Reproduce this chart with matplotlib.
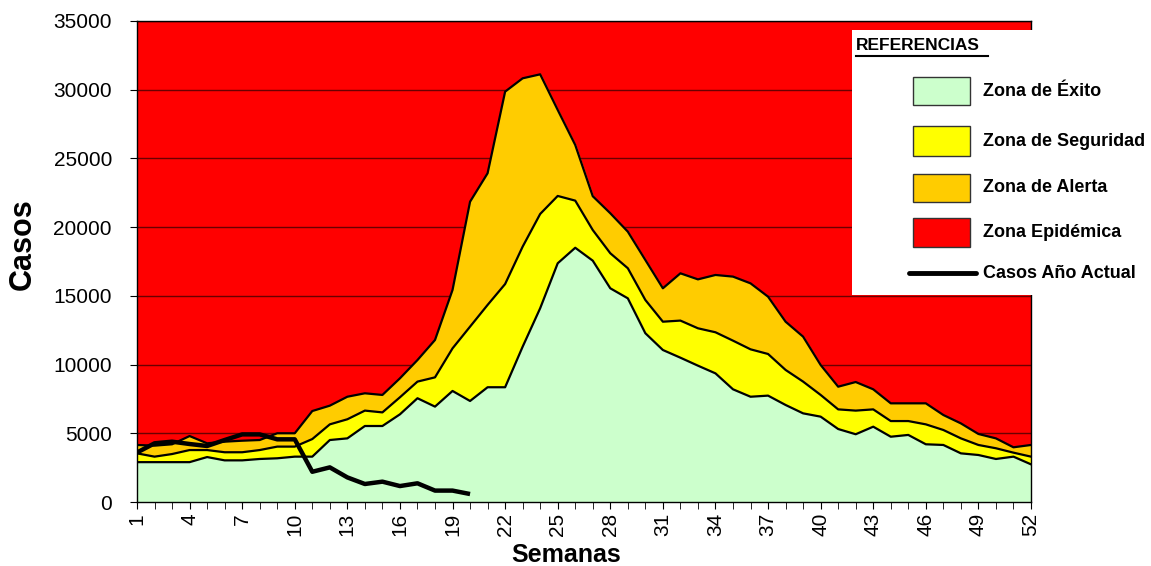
"""
Corredor endemico - casos por semana
"""

import matplotlib
matplotlib.use('Agg')
import matplotlib.pyplot as plt
from matplotlib.patches import Rectangle
from matplotlib.lines import Line2D

plt.rcParams['font.family'] = ['Liberation Sans', 'DejaVu Sans']

# data
semanas = list(range(1, 53))

zona_exito = [2900, 2900, 2900, 2900, 3270, 3030, 3030, 3130, 3180, 3300,
              3300, 4510, 4630, 5530, 5530, 6380, 7550, 6940, 8080, 7350,
              8350, 8350, 11300, 14100, 17370, 18500, 17560, 15550, 14820, 12280,
              11060, 10500, 9920, 9360, 8200, 7660, 7740, 7060, 6450, 6210,
              5310, 4930, 5480, 4750, 4880, 4200, 4150, 3540, 3420, 3130,
              3300, 2740]

zona_seguridad = [3540, 3300, 3490, 3780, 3780, 3620, 3620, 3780, 4030, 4030,
                  4580, 5650, 6020, 6650, 6520, 7620, 8760, 9070, 11180, 12760,
                  14340, 15860, 18580, 20960, 22270, 21930, 19790, 18100, 17010, 14700,
                  13120, 13200, 12640, 12350, 11740, 11110, 10770, 9610, 8760, 7790,
                  6740, 6650, 6740, 5890, 5890, 5650, 5240, 4630, 4150, 3910,
                  3590, 3300]

zona_alerta = [4150, 4100, 4200, 4800, 4270, 4390, 4460, 4510, 5000, 5000,
               6620, 7010, 7660, 7910, 7790, 9000, 10330, 11790, 15430, 21850,
               23920, 29860, 30830, 31120, 28530, 25980, 22250, 21010, 19670, 17610,
               15550, 16640, 16200, 16520, 16400, 15910, 14940, 13120, 12030, 9970,
               8390, 8730, 8200, 7180, 7180, 7180, 6330, 5720, 4950, 4630,
               3980, 4150]

semanas_actual = list(range(1, 21))
casos_actual = [3600, 4270, 4390, 4220, 4075, 4510, 4920, 4920, 4560, 4560,
                2200, 2520, 1790, 1310, 1480, 1160, 1360, 830, 830, 580]

y_max = 35000

W, H = 1151, 566
fig = plt.figure(figsize=(W / 100, H / 100), dpi=100)
ax = fig.add_axes([137 / W, 1 - 502 / H, (1031 - 137) / W, (502 - 21) / H])

# epidemic zone = red background
ax.set_facecolor('#FF0000')
ax.set_axisbelow(True)
ax.yaxis.grid(True, color='#6a0000', linewidth=1)

ax.fill_between(semanas, 0, zona_alerta, color='#FFCC00', zorder=2)
ax.fill_between(semanas, 0, zona_seguridad, color='#FFFF00', zorder=3)
ax.fill_between(semanas, 0, zona_exito, color='#CCFFCC', zorder=4)
ax.plot(semanas, zona_alerta, color='black', lw=1.6, zorder=5)
ax.plot(semanas, zona_seguridad, color='black', lw=1.6, zorder=5)
ax.plot(semanas, zona_exito, color='black', lw=1.6, zorder=5)
ax.plot(semanas_actual, casos_actual, color='black', lw=3.2, zorder=6,
        solid_capstyle='butt')

ax.set_xlim(1, 52)
ax.set_ylim(0, y_max)
ax.set_xticks(semanas, minor=True)
ax.set_xticks(semanas[::3])
ax.set_xticklabels([str(s) for s in semanas[::3]], rotation=90, fontsize=15)
ax.set_yticks(range(0, y_max + 1, 5000))
ax.set_yticklabels([str(v) for v in range(0, y_max + 1, 5000)], fontsize=15)
ax.tick_params(axis='x', which='both', direction='out', length=5, pad=3)
ax.tick_params(axis='y', direction='out', length=5, pad=13)
for sp in ax.spines.values():
    sp.set_color('black')
    sp.set_linewidth(1)
    sp.set_zorder(7)

fig.text(23 / W, 1 - 244 / H, 'Casos', rotation=90, fontsize=22,
         fontweight='bold', ha='center', va='center')
fig.text(566 / W, 1 - 555 / H, 'Semanas', fontsize=18,
         fontweight='bold', ha='center', va='center')

# legend box drawn by hand
def fx(px):
    return px / W

def fy(py):
    return 1 - py / H

fig.add_artist(Rectangle((fx(852), fy(295)), fx(1151) - fx(852), fy(30) - fy(295),
                         transform=fig.transFigure, facecolor='white',
                         edgecolor='none', zorder=10))
fig.text(fx(856), fy(46), 'REFERENCIAS', fontsize=12.5, fontweight='bold',
         ha='left', va='center', zorder=11)
fig.add_artist(Line2D([fx(856), fx(988)], [fy(56), fy(56)],
                      transform=fig.transFigure, color='black', lw=1.5, zorder=11))

entradas = [('Zona de Éxito', '#CCFFCC', 77, 105),
            ('Zona de Seguridad', '#FFFF00', 126, 156),
            ('Zona de Alerta', '#FFCC00', 174, 202),
            ('Zona Epidémica', '#FF0000', 218, 247)]
for texto, color, y0, y1 in entradas:
    fig.add_artist(Rectangle((fx(913), fy(y1)), fx(970) - fx(913), fy(y0) - fy(y1),
                             transform=fig.transFigure, facecolor=color,
                             edgecolor='#333333', lw=1, zorder=11))
    fig.text(fx(983), fy((y0 + y1) / 2), texto, fontsize=13, fontweight='bold',
             ha='left', va='center', zorder=11)

fig.add_artist(Line2D([fx(909), fx(976)], [fy(273), fy(273)],
                      transform=fig.transFigure, color='black', lw=3.5,
                      solid_capstyle='round', zorder=11))
fig.text(fx(983), fy(273), 'Casos Año Actual', fontsize=13, fontweight='bold',
         ha='left', va='center', zorder=11)

fig.savefig('out.png', dpi=100)
